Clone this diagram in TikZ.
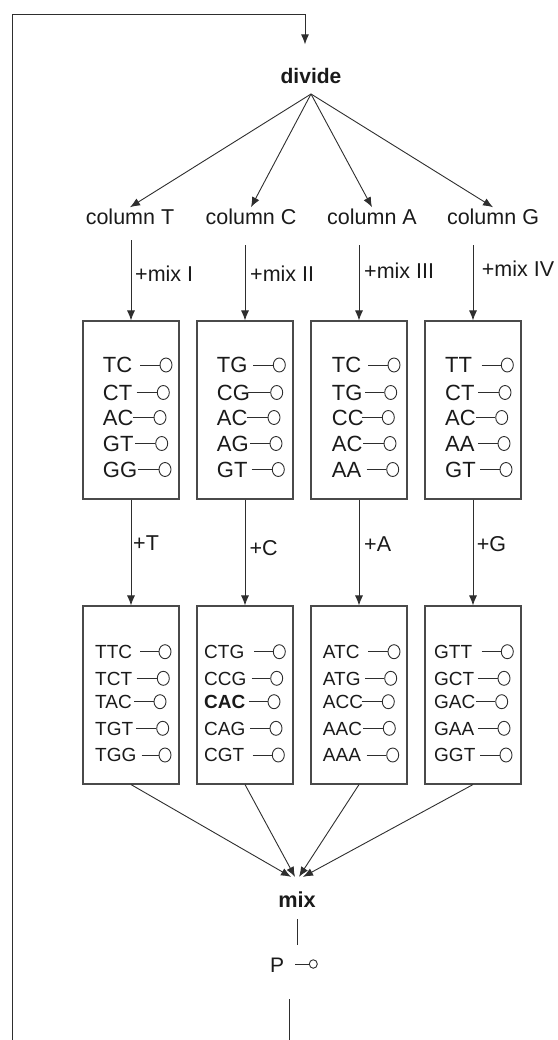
\documentclass[tikz,border=0pt]{standalone}
\usepackage{fontspec}
\setmainfont{Liberation Sans}
\usetikzlibrary{arrows.meta,shapes.geometric}
\definecolor{linec}{HTML}{2E2E2E}
\definecolor{boxc}{HTML}{4A4A4A}
\definecolor{txtc}{HTML}{1A1A1A}
\newcommand\lolrow[6]{%
  \node[rowfont, anchor=base west] (#1) at (#2,#3+\lolbase) {#4};
  \node[lolc] (#1c) at (#6,#3) {};
  \coordinate (#1l) at (#5,#3);
  \draw[ln] (#1l) -- (#1c.west);}
\begin{document}
\begin{tikzpicture}[x=1pt,y=-1pt,
  ln/.style={line width=0.9pt, draw=linec},
  arr/.style={ln, -{Latex[length=10pt,width=8pt]}},
  box/.style={draw=boxc, line width=1.1pt, minimum width=96pt, minimum height=178pt, inner sep=0pt},
  lbl/.style={font=\fontsize{21.5}{24}\selectfont, text=txtc, inner sep=2pt},
  lblb/.style={font=\fontsize{21}{24}\selectfont\bfseries, text=txtc, inner sep=2pt},
  lolc/.style={draw=linec, line width=0.9pt, ellipse, minimum width=12pt, minimum height=14pt, inner sep=0pt},
  rowfont/.style={font=\fontsize{22}{24}\selectfont, text=txtc, inner sep=0pt}]
\useasboundingbox (0,0) rectangle (557,1040);

% divide and columns
\node[lblb, anchor=base] (divide) at (311,83.5) {divide};
\coordinate (apex) at (311,94);
\node[lbl, anchor=base] (colT) at (130,225) {column T};
\node[lbl, anchor=base] (colC) at (251,225) {column C};
\node[lbl, anchor=base] (colA) at (372,225) {column A};
\node[lbl, anchor=base] (colG) at (493,225) {column G};
\foreach \c in {colT,colC,colA,colG} \draw[arr] (apex) -- (\c.north);

% loop
\coordinate (lstart) at (12,1040);
\coordinate (ltop) at (305,14);
\draw[arr, shorten >=21.7pt] (lstart) |- (ltop) -- (ltop |- divide.north);

% boxes
\node[box] (tb1) at (131,410) {};
\node[box] (tb2) at (245,410) {};
\node[box] (tb3) at (359,410) {};
\node[box] (tb4) at (473,410) {};
\node[box] (bb1) at (131,695) {};
\node[box] (bb2) at (245,695) {};
\node[box] (bb3) at (359,695) {};
\node[box] (bb4) at (473,695) {};

% arrows columns -> top boxes
\draw[arr, shorten <=13pt] (colT.south -| tb1.north) -- (tb1.north);
\draw[arr, shorten <=18pt] (colC.south -| tb2.north) -- (tb2.north);
\draw[arr, shorten <=18pt] (colA.south -| tb3.north) -- (tb3.north);
\draw[arr, shorten <=18pt] (colG.south -| tb4.north) -- (tb4.north);
\node[lbl, anchor=base west] (mI) at (133,281.7) {+mix I};
\node[lbl, anchor=base west] (mII) at (248,281.7) {+mix II};
\node[lbl, anchor=base west] (mIII) at (362,278.3) {+mix III};
\node[lbl, anchor=base west] (mIV) at (479.7,276.7) {+mix IV};

% arrows top -> bottom boxes
\draw[arr] (tb1.south) -- (bb1.north);
\draw[arr] (tb2.south) -- (bb2.north);
\draw[arr] (tb3.south) -- (bb3.north);
\draw[arr] (tb4.south) -- (bb4.north);
\node[lbl, anchor=base west] (pT) at (131,550) {+T};
\node[lbl, anchor=base west] (pC) at (247.3,555) {+C};
\node[lbl, anchor=base west] (pA) at (362,551.7) {+A};
\node[lbl, anchor=base west] (pG) at (474.7,551.7) {+G};

% top box rows
\def\lolbase{7.9}
\lolrow{a1}{102.7}{365}{TC}{140}{166}
\lolrow{a2}{102.7}{392.5}{CT}{136.7}{163.3}
\lolrow{a3}{102.7}{417.5}{AC}{133}{160}
\lolrow{a4}{102.7}{443.5}{GT}{135}{161.7}
\lolrow{a5}{102.7}{469.5}{GG}{138}{165}

\lolrow{b1}{216.7}{365}{TG}{253}{279.3}
\lolrow{b2}{216.7}{392.5}{CG}{248.3}{276.7}
\lolrow{b3}{216.7}{417.5}{AC}{246.7}{274}
\lolrow{b4}{216.7}{443.5}{AG}{250}{276}
\lolrow{b5}{216.7}{469.5}{GT}{251.7}{278.3}

\lolrow{c1}{331.7}{365}{TC}{368.3}{394}
\lolrow{c2}{331.7}{392.5}{TG}{365}{390.7}
\lolrow{c3}{331.7}{417.5}{CC}{361.7}{388.3}
\lolrow{c4}{331.7}{443.5}{AC}{363.3}{390}
\lolrow{c5}{331.7}{469.5}{AA}{366.7}{392.7}

\lolrow{d1}{445}{365}{TT}{481.7}{507.3}
\lolrow{d2}{445}{392.5}{CT}{478.3}{505}
\lolrow{d3}{445}{417.5}{AC}{476}{501.7}
\lolrow{d4}{445}{443.5}{AA}{478.3}{504}
\lolrow{d5}{445}{469.5}{GT}{480}{506}

% bottom box rows
\tikzset{rowfont/.style={font=\fontsize{19}{22}\selectfont, text=txtc, inner sep=0pt}}
\def\lolbase{6.8}
\lolrow{e1}{95}{651.7}{TTC}{140}{165}
\lolrow{e2}{95}{678.3}{TCT}{136.7}{163.3}
\lolrow{e3}{95}{701.7}{TAC}{134}{160}
\lolrow{e4}{95}{728.3}{TGT}{136}{162.7}
\lolrow{e5}{95}{755}{TGG}{141.7}{165}

\lolrow{f1}{204}{651.7}{CTG}{254.3}{279.3}
\lolrow{f2}{204}{678.3}{CCG}{251.7}{276.7}
\lolrow{f3}{204}{701.7}{\bfseries CAC}{249.3}{274}
\lolrow{f4}{204}{728.3}{CAG}{250}{276}
\lolrow{f5}{204}{755}{CGT}{252.7}{278.3}

\lolrow{g1}{322.7}{651.7}{ATC}{368.3}{394}
\lolrow{g2}{322.7}{678.3}{ATG}{365}{390.7}
\lolrow{g3}{322.7}{701.7}{ACC}{361.7}{388.3}
\lolrow{g4}{322.7}{728.3}{AAC}{363.3}{389.3}
\lolrow{g5}{322.7}{755}{AAA}{366.7}{392.7}

\lolrow{h1}{434}{651.7}{GTT}{481.7}{507.3}
\lolrow{h2}{434}{678.3}{GCT}{478.3}{504}
\lolrow{h3}{434}{701.7}{GAC}{476}{501.7}
\lolrow{h4}{434}{728.3}{GAA}{478.3}{504}
\lolrow{h5}{434}{755}{GGT}{480}{506}

% mix
\node[lblb, font=\fontsize{21.7}{24}\selectfont\bfseries, anchor=base] (mix) at (297,907.3) {mix};
\draw[arr] (bb1.south) -- ([xshift=-6pt,yshift=12.5pt]mix.north);
\draw[arr] (bb2.south) -- ([xshift=-2pt,yshift=12.5pt]mix.north);
\draw[arr] (bb3.south) -- ([xshift=2pt,yshift=12.5pt]mix.north);
\draw[arr] (bb4.south) -- ([xshift=6pt,yshift=12.5pt]mix.north);

% P
\node[lbl, font=\fontsize{21}{24}\selectfont, anchor=base] (P) at (277,972.7) {P};
\draw[ln, shorten <=9.7pt, shorten >=11.3pt] (mix.south) -- (mix.south |- P.north);
\node[draw=linec, line width=0.9pt, ellipse, minimum width=8pt, minimum height=8.5pt, inner sep=0pt] (Pc) at (313.3,964) {};
\coordinate (Pl) at (295,964);
\draw[ln] (Pl) -- (Pc.west);
\coordinate (bend) at (289.3,1040);
\draw[ln, shorten <=24.3pt] (bend |- P.south) -- (bend);
\end{tikzpicture}
\end{document}
